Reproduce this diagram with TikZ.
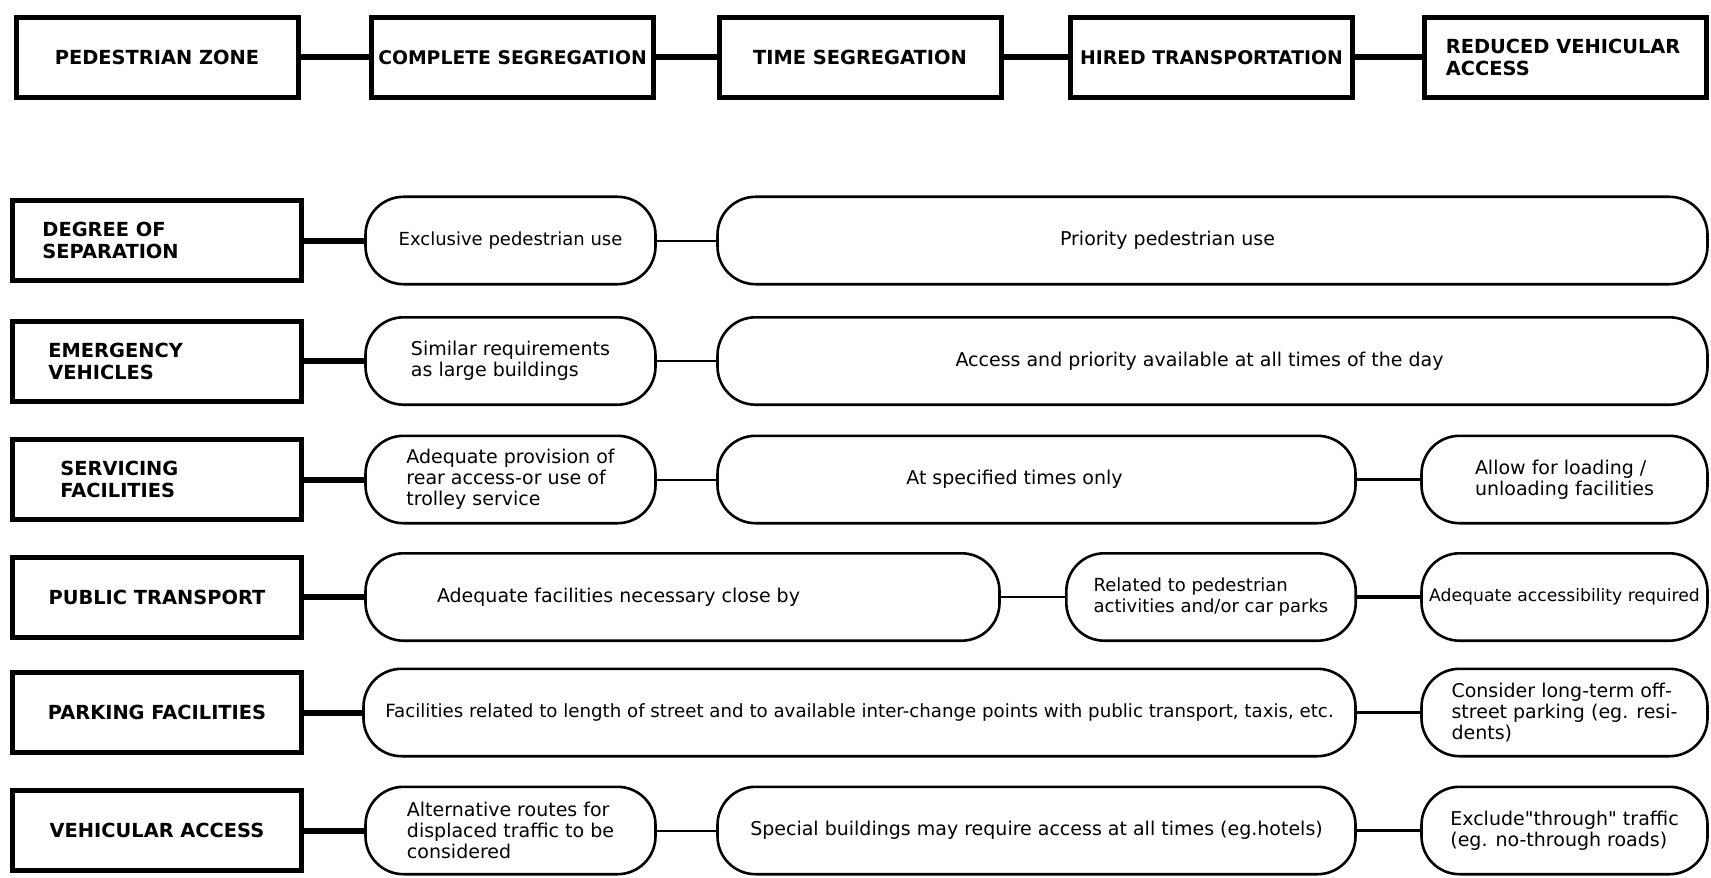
\documentclass[tikz,border=0pt]{standalone}
\usepackage{fontspec}
\setmainfont{DejaVu Sans}
\usepackage{tikz}
\newcommand\straightquote{\XeTeXglyph\XeTeXcharglyph"22\relax}

\begin{document}
\begin{tikzpicture}[x=0.5pt, y=-0.5pt,
    bigbox/.style={draw, line width=2.5pt, minimum width=141pt, minimum height=40pt,
      inner sep=1pt, font=\fontsize{9.7}{11}\selectfont\bfseries},
    sidebox/.style={bigbox, minimum width=144.5pt},
    captext/.style={inner sep=0pt, align=left, font=\fontsize{9.7}{11}\selectfont\bfseries},
    pill/.style={draw, line width=1.3pt, rounded corners=19pt, minimum height=43.7pt,
      inner sep=1pt, align=left, font=\fontsize{9.5}{10.5}\selectfont},
    pilltext/.style={inner sep=0pt, align=left, font=\fontsize{9.5}{10.5}\selectfont},
    heavy/.style={line width=3pt},
    light/.style={line width=1pt},
    medium/.style={line width=1.9pt}]
  \useasboundingbox (0,0) rectangle (1711,877);

  \node[bigbox] (zone) at (157,57.5) {PEDESTRIAN ZONE};
  \node[bigbox, font=\fontsize{9.4}{11}\selectfont\bfseries] (complete) at (512.5,57.5) {COMPLETE SEGREGATION};
  \node[bigbox] (time) at (860,57.5) {TIME SEGREGATION};
  \node[bigbox, font=\fontsize{9.4}{11}\selectfont\bfseries] (hired) at (1211.5,57.5) {HIRED TRANSPORTATION};
  \node[bigbox] (reduced) at (1565,57.5) {};
  \node[captext, anchor=west] (reducedtext) at ([xshift=12pt]reduced.west) {REDUCED VEHICULAR\\ACCESS};
  \draw[heavy] (zone) -- (complete);
  \draw[heavy] (complete) -- (time);
  \draw[heavy] (time) -- (hired);
  \draw[heavy] (hired) -- (reduced);

  \node[sidebox] (degree) at (157,240.5) {};
  \node[captext, anchor=west] (degreetext) at ([xshift=16pt]degree.west) {DEGREE OF\\SEPARATION};
  \node[sidebox] (emergency) at (157,361) {};
  \node[captext, anchor=west] (emergencytext) at ([xshift=19pt]emergency.west) {EMERGENCY\\VEHICLES};
  \node[sidebox] (servicing) at (157,479.5) {};
  \node[captext, anchor=west] (servicingtext) at ([xshift=25pt]servicing.west) {SERVICING\\FACILITIES};
  \node[sidebox] (public) at (157,597) {PUBLIC TRANSPORT};
  \node[sidebox] (parking) at (157,712.5) {PARKING FACILITIES};
  \node[sidebox] (vehicular) at (157,830.5) {VEHICULAR ACCESS};

  \node[pill, minimum width=145pt, font=\fontsize{9}{10.5}\selectfont] (exclusive) at (510.5,240.5) {Exclusive pedestrian use};
  \node[pill, minimum width=495pt] (priority) at (1212.5,240.5) {};
  \node[pilltext] (prioritytext) at ([xshift=-22.5pt]priority.center) {Priority pedestrian use};

  \node[pill, minimum width=145pt] (similar) at (510.5,361) {Similar requirements\\as large buildings};
  \node[pill, minimum width=495pt] (access) at (1212.5,361) {};
  \node[pilltext] (accesstext) at ([xshift=-6.5pt]access.center) {Access and priority available at all times of the day};

  \node[pill, minimum width=145pt] (provision) at (510.5,479.5) {Adequate provision of\\rear access-or use of\\trolley service};
  \node[pill, minimum width=319pt] (specified) at (1036.5,479.5) {};
  \node[pilltext] (specifiedtext) at ([xshift=-11pt]specified.center) {At specified times only};
  \node[pill, minimum width=143pt] (loading) at (1564.5,479.5) {Allow for loading /\\unloading facilities};

  \node[pill, minimum width=317pt] (facilities) at (682.5,597) {};
  \node[pilltext] (facilitiestext) at ([xshift=-32pt]facilities.center) {Adequate facilities necessary close by};
  \node[pill, minimum width=144.7pt, font=\fontsize{9}{10.5}\selectfont] (related) at (1211,597) {Related to pedestrian\\activities and/or car parks};
  \node[pill, minimum width=143pt, inner sep=0pt, font=\fontsize{8.6}{10.5}\selectfont] (accessibility) at (1564.5,597) {Adequate accessibility required};

  \node[pill, minimum width=496pt, font=\fontsize{9.1}{10.5}\selectfont] (street) at (859.5,712.5) {Facilities related to length of street and to available inter-change points with public transport, taxis, etc.};
  \node[pill, minimum width=143pt] (longterm) at (1564.5,712.5) {Consider long-term off-\\street parking (eg. resi-\\dents)};

  \node[pill, minimum width=145pt] (alternative) at (510.5,830.5) {Alternative routes for\\displaced traffic to be\\considered};
  \node[pill, minimum width=319pt] (special) at (1036.5,830.5) {Special buildings may require access at all times (eg.hotels)};
  \node[pill, minimum width=143pt] (exclude) at (1564.5,830.5) {Exclude\straightquote through\straightquote{} traffic\\(eg. no-through roads)};

  \draw[heavy] (degree) -- (exclusive);
  \draw[light] (exclusive) -- (priority);
  \draw[heavy] (emergency) -- (similar);
  \draw[light] (similar) -- (access);
  \draw[heavy] (servicing) -- (provision);
  \draw[light] (provision) -- (specified);
  \draw[medium] (specified) -- (loading);
  \draw[heavy] (public) -- (facilities);
  \draw[light] (facilities) -- (related);
  \draw[medium] (related) -- (accessibility);
  \draw[heavy] (parking) -- (street);
  \draw[medium] (street) -- (longterm);
  \draw[heavy] (vehicular) -- (alternative);
  \draw[light] (alternative) -- (special);
  \draw[medium] (special) -- (exclude);
\end{tikzpicture}
\end{document}
